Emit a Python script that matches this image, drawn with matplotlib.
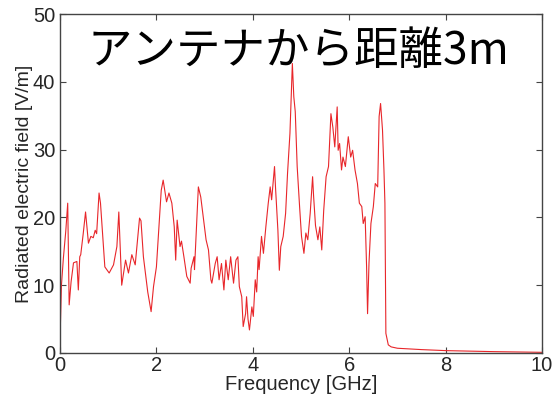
import matplotlib
matplotlib.use("Agg")
import matplotlib.pyplot as plt

# values
freq_ghz = [
    0.0, 0.03, 0.07, 0.12, 0.16, 0.19, 0.23, 0.28, 0.35, 0.38, 0.41, 0.43,
    0.48, 0.53, 0.59, 0.64, 0.69, 0.73, 0.76, 0.81, 0.84, 0.93, 1.02, 1.11,
    1.18, 1.22, 1.28, 1.36, 1.42, 1.49, 1.56, 1.65, 1.68, 1.73, 1.82, 1.89,
    1.94, 2.0, 2.1, 2.14, 2.21, 2.26, 2.32, 2.37, 2.4, 2.43, 2.49, 2.52,
    2.57, 2.63, 2.7, 2.72, 2.78, 2.79, 2.87, 2.92, 2.97, 3.03, 3.08, 3.13,
    3.15, 3.22, 3.26, 3.3, 3.35, 3.4, 3.44, 3.49, 3.54, 3.6, 3.65, 3.69,
    3.72, 3.77, 3.8, 3.85, 3.87, 3.9, 3.93, 3.98, 4.01, 4.05, 4.08, 4.11,
    4.13, 4.18, 4.22, 4.27, 4.32, 4.36, 4.39, 4.45, 4.47, 4.52, 4.55, 4.58,
    4.63, 4.68, 4.72, 4.77, 4.82, 4.85, 4.88, 4.92, 4.97, 5.01, 5.06, 5.1,
    5.14, 5.19, 5.24, 5.26, 5.3, 5.35, 5.39, 5.43, 5.47, 5.52, 5.57, 5.62,
    5.66, 5.7, 5.75, 5.77, 5.8, 5.84, 5.87, 5.92, 5.98, 6.03, 6.07, 6.12,
    6.17, 6.21, 6.26, 6.29, 6.33, 6.36, 6.38, 6.41, 6.45, 6.5, 6.54, 6.59,
    6.62, 6.65, 6.69, 6.72, 6.74, 6.76, 6.81, 6.87, 7.0, 7.5, 8.0, 9.0, 10.0,
]
field_vm = [
    2.0, 10.0, 14.0, 18.0, 22.1, 7.1, 10.5, 13.3, 13.5, 9.3, 14.2, 14.5,
    17.5, 20.8, 16.2, 17.2, 17.0, 18.1, 17.6, 23.6, 22.1, 12.7, 11.8, 13.0,
    15.7, 20.8, 10.0, 13.7, 11.8, 14.5, 13.0, 19.9, 19.5, 14.2, 9.0, 6.1,
    9.8, 12.7, 24.0, 25.5, 22.3, 23.6, 22.1, 18.6, 13.7, 19.6, 15.7, 16.5,
    14.2, 11.3, 10.3, 12.5, 14.2, 12.3, 24.5, 23.0, 20.1, 16.7, 15.2, 10.8,
    10.3, 13.2, 14.2, 10.8, 13.2, 9.3, 13.7, 10.8, 14.2, 10.3, 13.7, 14.2,
    9.8, 8.3, 3.9, 5.8, 8.3, 5.0, 3.4, 6.8, 5.4, 10.8, 9.0, 14.2,
    12.3, 17.2, 14.7, 18.6, 22.1, 24.5, 22.6, 27.5, 24.5, 18.1, 12.2, 15.7,
    17.2, 20.6, 26.5, 32.4, 42.7, 37.8, 35.6, 27.5, 21.6, 17.2, 14.7, 17.7,
    16.7, 20.6, 26.0, 23.2, 18.8, 16.7, 18.6, 15.2, 21.0, 26.0, 27.5, 35.3,
    33.3, 30.4, 36.3, 29.9, 30.9, 27.0, 28.9, 27.5, 31.9, 28.9, 29.9, 27.0,
    25.0, 22.1, 21.6, 19.1, 20.1, 12.7, 5.8, 13.3, 19.1, 21.6, 25.0, 24.5,
    34.9, 36.8, 32.9, 27.0, 22.1, 2.9, 1.2, 0.9, 0.7, 0.5, 0.35, 0.2, 0.1,
]
x_ticks = [0, 2, 4, 6, 8, 10]
y_ticks = [0, 10, 20, 30, 40, 50]
title_text = "アンテナから距離3m"

plt.rcParams['font.family'] = ['Liberation Sans', 'DejaVu Sans']

fig = plt.figure(figsize=(5.52, 3.96), dpi=100)
ax = fig.add_axes([0.1087, 0.1086, 0.8733, 0.856])

ax.plot(freq_ghz, field_vm, color='#e8262a', linewidth=0.8)

ax.set_xlim(0, 10)
ax.set_ylim(0, 50)
ax.set_xticks(x_ticks)
ax.set_yticks(y_ticks)
ax.tick_params(direction='in', top=True, right=True, length=4,
               labelsize=14.5, labelcolor='#262626', color='#444444')
ax.tick_params(axis='x', pad=2)
ax.tick_params(axis='y', pad=3.5)
for s in ax.spines.values():
    s.set_color('#444444')
    s.set_linewidth(1.0)

ax.set_xlabel('Frequency [GHz]', fontsize=14.5, color='#262626', labelpad=0)
ax.set_ylabel('Radiated electric field [V/m]', fontsize=14, color='#262626', labelpad=0)

ax.text(0.495, 0.89, title_text, transform=ax.transAxes, ha='center', va='center',
        fontsize=32, color='black', family=['Noto Sans CJK JP', 'DejaVu Sans'])

fig.savefig('out.png', dpi=100)
